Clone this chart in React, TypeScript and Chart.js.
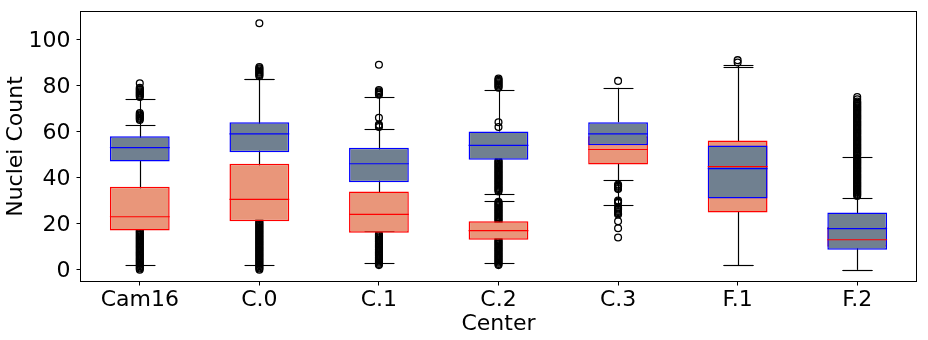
import React, { useEffect, useRef } from 'react';
import { Chart, registerables } from 'chart.js';

Chart.register(...registerables);

const categories = ['Cam16', 'C.0', 'C.1', 'C.2', 'C.3', 'F.1', 'F.2'];
const yTickValues = [0, 20, 40, 60, 80, 100];
const yMin = -5.35;
const yMax = 112.35;

// Series A (slate boxes, blue edges)
const blueQ1 = [47, 51, 38, 47.7, 54, 30.9, 8.7];
const blueMedian = [53, 59, 46, 54, 59, 43.9, 17.8];
const blueQ3 = [58, 64, 53, 60, 64, 53.9, 24.8];
const blueWhiskerLow = [31, 32, 17, 30, 39, 2, 0];
const blueWhiskerHigh = [74, 83, 75, 78, 79, 88, 49];
const blueFliers = [
  [0, 0.5, 1, 1.5, 2, 2.5, 3, 3.5, 4, 4.5, 5, 5.5, 6, 6.5, 7, 7.5, 8, 8.5, 9, 9.5, 10, 10.5, 11, 11.5, 12, 12.5,
    13, 13.5, 14, 14.5, 15, 15.5, 16, 16.5, 17, 18, 19, 20, 21, 22, 23, 24, 25, 26, 27, 28, 29, 30,
    75, 75.5, 76, 76.5, 77, 77.5, 78, 78.5, 79, 81],
  [0, 0.5, 1, 1.5, 2, 2.5, 3, 3.5, 4, 4.5, 5, 5.5, 6, 6.5, 7, 7.5, 8, 8.5, 9, 9.5, 10, 10.5, 11, 11.5, 12, 12.5,
    13, 13.5, 14, 14.5, 15, 15.5, 16, 16.5, 17, 17.5, 18, 18.5, 19, 19.5, 20, 20.5, 21, 22, 23, 24, 25, 26, 27,
    28, 29, 30, 31, 84, 84.5, 85, 85.5, 86, 86.5, 87, 87.5, 88, 107],
  [2, 2.5, 3, 3.5, 4, 4.5, 5, 5.5, 6, 6.5, 7, 7.5, 8, 8.5, 9, 9.5, 10, 10.5, 11, 11.5, 12, 12.5, 13, 13.5, 14,
    14.5, 15, 15.5, 76, 76.5, 77, 77.5, 78, 89],
  [2, 2.5, 3, 3.5, 4, 4.5, 5, 5.5, 6, 6.5, 7, 7.5, 8, 8.5, 9, 9.5, 10, 10.5, 11, 11.5, 12, 12.5, 13, 14, 15, 16,
    17, 18, 19, 20, 21, 21.5, 22, 22.5, 23, 23.5, 24, 24.5, 25, 25.5, 26, 26.5, 27, 27.5, 28, 28.5, 29, 29.5,
    79, 79.5, 80, 80.5, 81, 81.5, 82, 82.5, 83],
  [29, 29.5, 30, 35, 35.5, 36, 36.5, 37, 82],
  [90, 91],
  [50, 50.5, 51, 51.5, 52, 52.5, 53, 53.5, 54, 54.5, 55, 55.5, 56, 56.5, 57, 57.5, 58, 58.5, 59, 59.5, 60, 60.5,
    61, 61.5, 62, 62.5, 63, 63.5, 64, 64.5, 65, 65.5, 66, 66.5, 67, 67.5, 68, 68.5, 69, 69.5, 70, 70.5, 71, 71.5,
    72, 72.5, 73, 74, 75],
];

// Series B (salmon boxes, red edges)
const redQ1 = [17, 21, 16, 13, 45.7, 24.8, 10];
const redMedian = [23, 30.5, 24, 17, 52.2, 44.8, 13];
const redQ3 = [36, 46, 34, 21, 58, 56.1, 18.5];
const redWhiskerLow = [2, 2, 3, 3, 28, 2, 0];
const redWhiskerHigh = [63, 83, 61, 33, 63, 89, 31];
const redFliers = [
  [65, 65.5, 66, 66.5, 67, 67.5, 68],
  [],
  [62, 62.5, 63, 66],
  [34, 34.5, 35, 35.5, 36, 36.5, 37, 37.5, 38, 38.5, 39, 39.5, 40, 40.5, 41, 41.5, 42, 42.5, 43, 43.5, 44, 44.5,
    45, 45.5, 46, 46.5, 47, 47.5, 62, 64],
  [14, 18, 21, 24, 24.5, 25, 25.5, 26, 26.5, 27],
  [],
  [32, 32.5, 33, 33.5, 34, 34.5, 35, 35.5, 36, 36.5, 37, 37.5, 38, 38.5, 39, 39.5, 40, 40.5, 41, 41.5, 42, 42.5,
    43, 43.5, 44, 44.5, 45, 45.5, 46, 46.5, 47, 47.5, 48, 48.5, 49.5],
];

const FONT = 'DejaVu Sans';
const BLUE_FACE = '#708090';
const BLUE_EDGE = '#0000ff';
const RED_FACE = '#e9967a';
const RED_EDGE = '#ff0000';

function catWidth(chart: any) {
  const xs = chart.scales.x;
  return xs.getPixelForValue(1) - xs.getPixelForValue(0);
}

function drawWhiskers(chart: any, q1: number[], q3: number[], lo: number[], hi: number[]) {
  const ctx = chart.ctx;
  const xs = chart.scales.x;
  const ys = chart.scales.y;
  const capHalf = catWidth(chart) * 0.125;
  ctx.save();
  ctx.strokeStyle = '#000';
  ctx.lineWidth = 1.1;
  categories.forEach((_, i) => {
    const x = Math.round(xs.getPixelForValue(i)) + 0.5;
    const segs: [number, number][] = [[q1[i], lo[i]], [q3[i], hi[i]]];
    segs.forEach(([a, b]) => {
      ctx.beginPath();
      ctx.moveTo(x, ys.getPixelForValue(a));
      ctx.lineTo(x, ys.getPixelForValue(b));
      ctx.stroke();
      const yc = Math.round(ys.getPixelForValue(b)) + 0.5;
      ctx.beginPath();
      ctx.moveTo(x - capHalf, yc);
      ctx.lineTo(x + capHalf, yc);
      ctx.stroke();
    });
  });
  ctx.restore();
}

function drawMedians(chart: any, med: number[], color: string) {
  const ctx = chart.ctx;
  const xs = chart.scales.x;
  const ys = chart.scales.y;
  const half = catWidth(chart) * 0.25;
  ctx.save();
  ctx.strokeStyle = color;
  ctx.lineWidth = 1.2;
  categories.forEach((_, i) => {
    const x = xs.getPixelForValue(i);
    const y = ys.getPixelForValue(med[i]);
    ctx.beginPath();
    ctx.moveTo(x - half, y);
    ctx.lineTo(x + half, y);
    ctx.stroke();
  });
  ctx.restore();
}

const boxPartsPlugin = {
  id: 'boxParts',
  beforeDatasetDraw(chart: any, args: any) {
    if (args.index === 3) drawWhiskers(chart, blueQ1, blueQ3, blueWhiskerLow, blueWhiskerHigh);
    if (args.index === 1) drawWhiskers(chart, redQ1, redQ3, redWhiskerLow, redWhiskerHigh);
  },
  afterDatasetsDraw(chart: any) {
    drawMedians(chart, blueMedian, BLUE_EDGE);
    drawMedians(chart, redMedian, RED_EDGE);
    const { left, top, right, bottom } = chart.chartArea;
    const ctx = chart.ctx;
    ctx.save();
    ctx.strokeStyle = '#000';
    ctx.lineWidth = 1;
    const l = Math.floor(left) + 0.5;
    const t = Math.floor(top) + 0.5;
    const r = Math.floor(right) - 0.5;
    const b = Math.floor(bottom) - 0.5;
    ctx.strokeRect(l, t, r - l, b - t);
    ctx.restore();
  },
};

const toPoints = (fl: number[][]) =>
  fl.flatMap((vals, i) => vals.map((v) => ({ x: categories[i], y: v })));

export default function App() {
  const ref = useRef<HTMLCanvasElement>(null);

  useEffect(() => {
    const gridOpts = {
      display: true,
      offset: false,
      drawOnChartArea: false,
      drawTicks: true,
      tickLength: 3.5,
      color: '#000',
      lineWidth: 1,
    };
    const flierStyle = {
      pointRadius: 3.4,
      pointBorderWidth: 1.3,
      pointBorderColor: '#000',
      pointBackgroundColor: 'rgba(0,0,0,0)',
      pointHoverRadius: 3.4,
    };
    const chart = new Chart(ref.current as HTMLCanvasElement, {
      type: 'bar',
      data: {
        labels: categories,
        datasets: [
          {
            type: 'bar',
            label: 'A',
            data: categories.map((_, i) => [blueQ1[i], blueQ3[i]]),
            backgroundColor: BLUE_FACE,
            borderColor: BLUE_EDGE,
            borderWidth: 1.5,
            borderSkipped: false,
            grouped: false,
            barPercentage: 0.5,
            categoryPercentage: 1,
          } as any,
          { type: 'scatter', label: 'B fliers', data: toPoints(redFliers), ...flierStyle } as any,
          {
            type: 'bar',
            label: 'B',
            data: categories.map((_, i) => [redQ1[i], redQ3[i]]),
            backgroundColor: RED_FACE,
            borderColor: RED_EDGE,
            borderWidth: 1.5,
            borderSkipped: false,
            grouped: false,
            barPercentage: 0.5,
            categoryPercentage: 1,
          } as any,
          { type: 'scatter', label: 'A fliers', data: toPoints(blueFliers), ...flierStyle } as any,
        ],
      },
      options: {
        animation: false,
        responsive: false,
        layout: { padding: { left: 0, right: 11, top: 11, bottom: 0 } },
        plugins: { legend: { display: false }, tooltip: { enabled: false } },
        scales: {
          x: {
            type: 'category',
            offset: true,
            grid: gridOpts,
            border: { display: false },
            ticks: {
              color: '#000',
              font: { size: 22, family: FONT },
              padding: 2,
              autoSkip: false,
              maxRotation: 0,
            },
            title: {
              display: true,
              text: 'Center',
              color: '#000',
              font: { size: 22, family: FONT },
              padding: { top: 0, bottom: 2.8 },
            },
            afterFit: (s: any) => {
              s.height = 58;
              s.paddingLeft = 0;
              s.paddingRight = 0;
            },
          },
          y: {
            min: yMin,
            max: yMax,
            afterBuildTicks: (s: any) => {
              s.ticks = yTickValues.map((v) => ({ value: v }));
            },
            grid: gridOpts,
            border: { display: false },
            ticks: {
              color: '#000',
              font: { size: 22, family: FONT },
              padding: 6,
              labelOffset: 1.5,
            },
            title: {
              display: true,
              text: 'Nuclei Count',
              color: '#000',
              font: { size: 22, family: FONT },
              padding: { top: 3.3, bottom: 0 },
            },
            afterFit: (s: any) => {
              s.width = 80;
              s.paddingTop = 0;
              s.paddingBottom = 0;
            },
          },
        },
      } as any,
      plugins: [boxPartsPlugin],
    });
    return () => chart.destroy();
  }, []);

  return (
    <div style={{ position: 'fixed', left: 0, top: 0, width: 928, height: 340, background: '#fff' }}>
      <canvas ref={ref} width={928} height={340} style={{ display: 'block', width: 928, height: 340 }} />
    </div>
  );
}
